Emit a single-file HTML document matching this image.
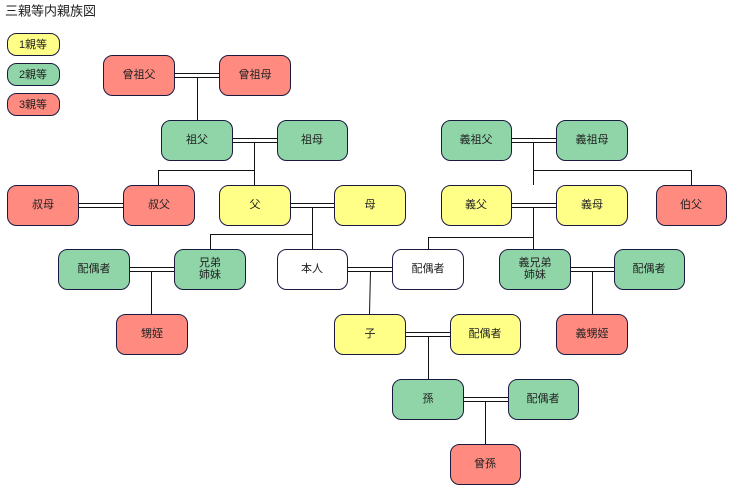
<!DOCTYPE html>
<html><head><meta charset="utf-8"><style>
body{margin:0;background:#fff;width:734px;height:494px;overflow:hidden}
svg text{font-family:"Liberation Sans","Noto Sans CJK JP",sans-serif;font-size:11px;fill:#222;text-anchor:middle;dominant-baseline:central}
</style></head><body>
<svg width="734" height="494" xmlns="http://www.w3.org/2000/svg">
<text x="5" y="11" style="font-size:13px;text-anchor:start">三親等内親族図</text>
<g stroke="#1a1a40" stroke-width="1">
<rect x="7.5" y="33.5" width="52" height="22" rx="9" fill="#ffff88"/>
<rect x="7.5" y="63.5" width="52" height="22" rx="9" fill="#8fd5a8"/>
<rect x="7.5" y="93.5" width="52" height="22" rx="9" fill="#ff8b80"/>
</g>
<text x="33" y="45">1親等</text><text x="33" y="75">2親等</text><text x="33" y="105">3親等</text>
<g stroke="#111" stroke-width="1" fill="none">
<!-- double lines -->
<path d="M175 73.5H219M175 77.5H219"/>
<path d="M232 138.5H277M232 142.5H277"/>
<path d="M511 138.5H556M511 142.5H556"/>
<path d="M78 203.5H123M78 207.5H123"/>
<path d="M290 203.5H334M290 207.5H334"/>
<path d="M511 203.5H556M511 207.5H556"/>
<path d="M129 267.5H174M129 271.5H174"/>
<path d="M347 267.5H392M347 271.5H392"/>
<path d="M570 267.5H614M570 271.5H614"/>
<path d="M405 332.5H450M405 336.5H450"/>
<path d="M463 397.5H508M463 401.5H508"/>
<!-- descents -->
<path d="M197.5 77V120"/>
<path d="M254.5 142V185M158.5 170.5H254.5M158.5 170V185"/>
<path d="M533.5 142V185M533.5 170.5H691.5M691.5 170V185"/>
<path d="M312.5 207V249M210.5 234.5H312.5M210.5 234V249"/>
<path d="M533.5 207V249M428.5 237.5H533.5M428.5 237V249"/>
<path d="M151.5 271V314"/>
<path d="M370.5 271L369.5 314"/>
<path d="M592.5 271V314"/>
<path d="M428.5 336V379"/>
<path d="M485.5 401V444"/>
</g>
<g stroke="#1a1a40" stroke-width="1">
<rect x="103.5" y="55.5" width="71" height="40" rx="9" fill="#ff8b80"/>
<rect x="219.5" y="55.5" width="71" height="40" rx="9" fill="#ff8b80"/>
<rect x="161.5" y="120.5" width="71" height="40" rx="9" fill="#8fd5a8"/>
<rect x="277.5" y="120.5" width="70" height="40" rx="9" fill="#8fd5a8"/>
<rect x="441.5" y="120.5" width="70" height="40" rx="9" fill="#8fd5a8"/>
<rect x="556.5" y="120.5" width="71" height="40" rx="9" fill="#8fd5a8"/>
<rect x="7.5" y="185.5" width="71" height="40" rx="9" fill="#ff8b80"/>
<rect x="123.5" y="185.5" width="71" height="40" rx="9" fill="#ff8b80"/>
<rect x="219.5" y="185.5" width="71" height="40" rx="9" fill="#ffff88"/>
<rect x="334.5" y="185.5" width="71" height="40" rx="9" fill="#ffff88"/>
<rect x="441.5" y="185.5" width="70" height="40" rx="9" fill="#ffff88"/>
<rect x="556.5" y="185.5" width="71" height="40" rx="9" fill="#ffff88"/>
<rect x="656.5" y="185.5" width="70" height="40" rx="9" fill="#ff8b80"/>
<rect x="58.5" y="249.5" width="71" height="40" rx="9" fill="#8fd5a8"/>
<rect x="174.5" y="249.5" width="71" height="40" rx="9" fill="#8fd5a8"/>
<rect x="277.5" y="249.5" width="70" height="40" rx="9" fill="#fff"/>
<rect x="392.5" y="249.5" width="71" height="40" rx="9" fill="#fff"/>
<rect x="499.5" y="249.5" width="71" height="40" rx="9" fill="#8fd5a8"/>
<rect x="614.5" y="249.5" width="70" height="40" rx="9" fill="#8fd5a8"/>
<rect x="116.5" y="314.5" width="71" height="40" rx="9" fill="#ff8b80"/>
<rect x="334.5" y="314.5" width="71" height="40" rx="9" fill="#ffff88"/>
<rect x="450.5" y="314.5" width="70" height="40" rx="9" fill="#ffff88"/>
<rect x="556.5" y="314.5" width="71" height="40" rx="9" fill="#ff8b80"/>
<rect x="392.5" y="379.5" width="71" height="40" rx="9" fill="#8fd5a8"/>
<rect x="508.5" y="379.5" width="70" height="40" rx="9" fill="#8fd5a8"/>
<rect x="450.5" y="444.5" width="70" height="40" rx="9" fill="#ff8b80"/>
</g>
<text x="139" y="75">曾祖父</text><text x="255" y="75">曾祖母</text>
<text x="197" y="140">祖父</text><text x="312" y="140">祖母</text>
<text x="476" y="140">義祖父</text><text x="592" y="140">義祖母</text>
<text x="43" y="205">叔母</text><text x="159" y="205">叔父</text>
<text x="255" y="205">父</text><text x="370" y="205">母</text>
<text x="476" y="205">義父</text><text x="592" y="205">義母</text><text x="691" y="205">伯父</text>
<text x="94" y="269">配偶者</text>
<text x="210" y="263">兄弟</text><text x="210" y="275">姉妹</text>
<text x="312" y="269">本人</text><text x="428" y="269">配偶者</text>
<text x="535" y="263">義兄弟</text><text x="535" y="275">姉妹</text>
<text x="649" y="269">配偶者</text>
<text x="152" y="334">甥姪</text><text x="370" y="334">子</text>
<text x="485" y="334">配偶者</text><text x="592" y="334">義甥姪</text>
<text x="428" y="399">孫</text><text x="543" y="399">配偶者</text>
<text x="485" y="464">曾孫</text>
</svg>
</body></html>
